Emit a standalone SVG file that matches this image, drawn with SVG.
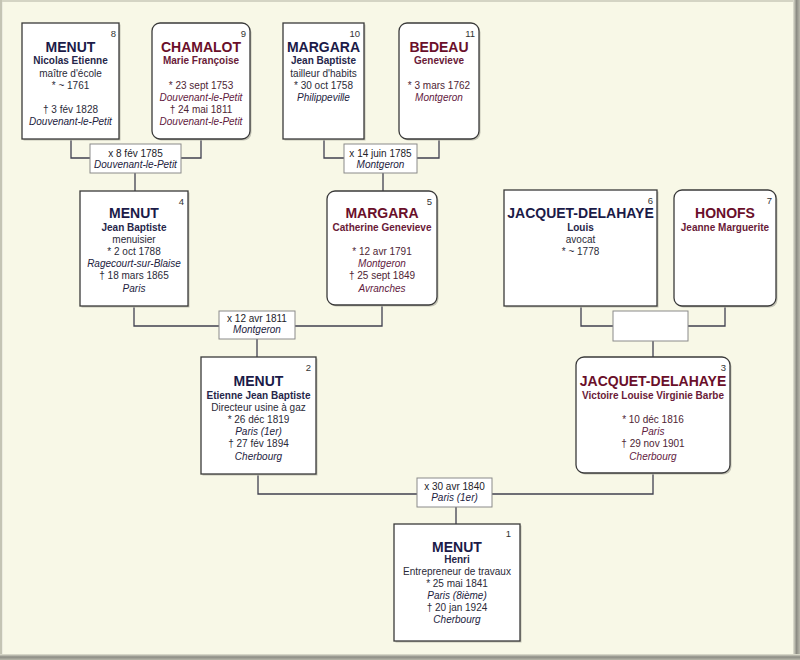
<svg xmlns="http://www.w3.org/2000/svg" width="800" height="660" viewBox="0 0 800 660">
<defs>
<linearGradient id="gr" x1="0" y1="0" x2="1" y2="0">
<stop offset="0" stop-color="#e4e4d4"/><stop offset="0.5" stop-color="#8c8c84"/><stop offset="1" stop-color="#b8b8ac"/>
</linearGradient>
<linearGradient id="gb" x1="0" y1="0" x2="0" y2="1">
<stop offset="0" stop-color="#e4e4d4"/><stop offset="0.5" stop-color="#8c8c84"/><stop offset="1" stop-color="#b8b8ac"/>
</linearGradient>
<style>
text{font-family:"Liberation Sans",Arial,sans-serif;text-anchor:middle;font-size:10px}
.nm{font-size:14px;font-weight:bold}
.gv{font-weight:bold}
.it{font-style:italic}
.num{font-size:9.5px;text-anchor:end;fill:#333333}
.m .nm{fill:#1b1b48}
.m .gv{fill:#26264a}
.m .tx{fill:#2a2a38}
.m .it{fill:#22223e}
.f .nm{fill:#6a0f2a}
.f .gv{fill:#6a1a38}
.f .tx{fill:#4e2434}
.f .it{fill:#62203e}
.box{fill:#ffffff;stroke:#3a3a3a;stroke-width:1.3}
.sh{fill:#c4c4b6}
.mbox{fill:#ffffff;stroke:#8a8a8a;stroke-width:1}
.mt{fill:#222228}
.mi{fill:#22223e;font-style:italic}
.con{fill:none;stroke:#404050;stroke-width:1.3}
</style>
</defs>
<rect x="0" y="0" width="800" height="660" fill="#f8f8e7"/>
<rect x="0" y="0" width="800" height="2" fill="#d4d4c4"/>
<rect x="0" y="0" width="2" height="660" fill="#c4c4b4"/>
<rect x="2" y="2" width="1" height="652" fill="#ecece0"/>
<rect x="793" y="0" width="7" height="660" fill="url(#gr)"/>
<rect x="0" y="654" width="800" height="6" fill="url(#gb)"/>

<g id="connectors">
<path class="con" d="M71,139V158H90M201,139V158H181M135,173V191"/>
<path class="con" d="M324,139V158H344M439,139V158H417M383,173V191"/>
<path class="con" d="M134,306V326H219M382,305V326H295M257,339V357"/>
<path class="con" d="M581,306V326H613M725,306V326H688M653,341V357"/>
<path class="con" d="M258,474V494H417M653,473V494H492M456,507V524"/>
</g>

<g id="marriage-8-9">
<rect class="mbox" x="90" y="144" width="91" height="29"/>
<text class="mt" x="135.5" y="156.5">x 8 fév 1785</text>
<text class="mi" x="135.5" y="167.5">Douvenant-le-Petit</text>
</g>
<g id="marriage-10-11">
<rect class="mbox" x="344" y="144" width="73" height="29"/>
<text class="mt" x="380.5" y="156.5">x 14 juin 1785</text>
<text class="mi" x="380.5" y="167.5">Montgeron</text>
</g>
<g id="marriage-4-5">
<rect class="mbox" x="219" y="311" width="76" height="28"/>
<text class="mt" x="257" y="322">x 12 avr 1811</text>
<text class="mi" x="257" y="333">Montgeron</text>
</g>
<g id="marriage-6-7">
<rect class="mbox" x="613" y="311" width="75" height="30"/>
</g>
<g id="marriage-2-3">
<rect class="mbox" x="417" y="478" width="75" height="29"/>
<text class="mt" x="454.5" y="489.5">x 30 avr 1840</text>
<text class="mi" x="454.5" y="500.5">Paris (1er)</text>
</g>

<g id="node-8" class="m">
<rect class="sh" x="23.5" y="24.5" width="97" height="116"/>
<rect class="box" x="22" y="23" width="97" height="116"/>
<text class="num" x="116" y="37">8</text>
<text class="nm" x="70.5" y="52">MENUT</text>
<text class="gv" x="70.5" y="64.3">Nicolas Etienne</text>
<text class="tx" x="70.5" y="76.5">maître d'école</text>
<text class="tx" x="70.5" y="88.7">* ~ 1761</text>
<text class="tx" x="70.5" y="113.1">† 3 fév 1828</text>
<text class="it" x="70.5" y="125.3">Douvenant-le-Petit</text>
</g>
<g id="node-9" class="f">
<rect class="sh" x="153.5" y="24.5" width="98" height="116" rx="8"/>
<rect class="box" x="152" y="23" width="98" height="116" rx="8"/>
<text class="num" x="246" y="37">9</text>
<text class="nm" x="201" y="52">CHAMALOT</text>
<text class="gv" x="201" y="64.3">Marie Françoise</text>
<text class="tx" x="201" y="88.7">* 23 sept 1753</text>
<text class="it" x="201" y="100.9">Douvenant-le-Petit</text>
<text class="tx" x="201" y="113.1">† 24 mai 1811</text>
<text class="it" x="201" y="125.3">Douvenant-le-Petit</text>
</g>
<g id="node-10" class="m">
<rect class="sh" x="284.5" y="24.5" width="81" height="116"/>
<rect class="box" x="283" y="23" width="81" height="116"/>
<text class="num" x="360" y="37">10</text>
<text class="nm" x="323.5" y="52">MARGARA</text>
<text class="gv" x="323.5" y="64.3">Jean Baptiste</text>
<text class="tx" x="323.5" y="76.5">tailleur d'habits</text>
<text class="tx" x="323.5" y="88.7">* 30 oct 1758</text>
<text class="it" x="323.5" y="100.9">Philippeville</text>
</g>
<g id="node-11" class="f">
<rect class="sh" x="400.5" y="24.5" width="80" height="116" rx="8"/>
<rect class="box" x="399" y="23" width="80" height="116" rx="8"/>
<text class="num" x="475" y="37">11</text>
<text class="nm" x="439" y="52">BEDEAU</text>
<text class="gv" x="439" y="64.3">Genevieve</text>
<text class="tx" x="439" y="88.7">* 3 mars 1762</text>
<text class="it" x="439" y="100.9">Montgeron</text>
</g>

<g id="node-4" class="m">
<rect class="sh" x="81.5" y="192.5" width="108" height="115"/>
<rect class="box" x="80" y="191" width="108" height="115"/>
<text class="num" x="184" y="204.5">4</text>
<text class="nm" x="134" y="218.3">MENUT</text>
<text class="gv" x="134" y="230.5">Jean Baptiste</text>
<text class="tx" x="134" y="242.7">menuisier</text>
<text class="tx" x="134" y="254.9">* 2 oct 1788</text>
<text class="it" x="134" y="267.1">Ragecourt-sur-Blaise</text>
<text class="tx" x="134" y="279.3">† 18 mars 1865</text>
<text class="it" x="134" y="291.5">Paris</text>
</g>
<g id="node-5" class="f">
<rect class="sh" x="328.5" y="192.5" width="110" height="114" rx="8"/>
<rect class="box" x="327" y="191" width="110" height="114" rx="8"/>
<text class="num" x="432" y="204.5">5</text>
<text class="nm" x="382" y="218.3">MARGARA</text>
<text class="gv" x="382" y="230.5">Catherine Genevieve</text>
<text class="tx" x="382" y="254.9">* 12 avr 1791</text>
<text class="it" x="382" y="267.1">Montgeron</text>
<text class="tx" x="382" y="279.3">† 25 sept 1849</text>
<text class="it" x="382" y="291.5">Avranches</text>
</g>
<g id="node-6" class="m">
<rect class="sh" x="505.5" y="191.5" width="153" height="116"/>
<rect class="box" x="504" y="190" width="153" height="116"/>
<text class="num" x="653" y="204">6</text>
<text class="nm" x="580.5" y="218.3">JACQUET-DELAHAYE</text>
<text class="gv" x="580.5" y="230.5">Louis</text>
<text class="tx" x="580.5" y="242.7">avocat</text>
<text class="tx" x="580.5" y="254.9">* ~ 1778</text>
</g>
<g id="node-7" class="f">
<rect class="sh" x="675.5" y="191.5" width="102" height="116" rx="8"/>
<rect class="box" x="674" y="190" width="102" height="116" rx="8"/>
<text class="num" x="772" y="204">7</text>
<text class="nm" x="725" y="218.3">HONOFS</text>
<text class="gv" x="725" y="230.5">Jeanne Marguerite</text>
</g>

<g id="node-2" class="m">
<rect class="sh" x="202.5" y="358.5" width="115" height="117"/>
<rect class="box" x="201" y="357" width="115" height="117"/>
<text class="num" x="311" y="370.7">2</text>
<text class="nm" x="258.5" y="385.5">MENUT</text>
<text class="gv" x="258.5" y="398.5">Etienne Jean Baptiste</text>
<text class="tx" x="258.5" y="410.7">Directeur usine à gaz</text>
<text class="tx" x="258.5" y="422.9">* 26 déc 1819</text>
<text class="it" x="258.5" y="435.1">Paris (1er)</text>
<text class="tx" x="258.5" y="447.3">† 27 fév 1894</text>
<text class="it" x="258.5" y="459.5">Cherbourg</text>
</g>
<g id="node-3" class="f">
<rect class="sh" x="577.5" y="358.5" width="154" height="116" rx="8"/>
<rect class="box" x="576" y="357" width="154" height="116" rx="8"/>
<text class="num" x="726" y="371">3</text>
<text class="nm" x="653" y="385.5">JACQUET-DELAHAYE</text>
<text class="gv" x="653" y="398.5">Victoire Louise Virginie Barbe</text>
<text class="tx" x="653" y="422.9">* 10 déc 1816</text>
<text class="it" x="653" y="435.1">Paris</text>
<text class="tx" x="653" y="447.3">† 29 nov 1901</text>
<text class="it" x="653" y="459.5">Cherbourg</text>
</g>

<g id="node-1" class="m">
<rect class="sh" x="395.5" y="525.5" width="126" height="117"/>
<rect class="box" x="394" y="524" width="126" height="117"/>
<text class="num" x="511" y="537.3">1</text>
<text class="nm" x="457" y="552.3">MENUT</text>
<text class="gv" x="457" y="563.3">Henri</text>
<text class="tx" x="457" y="575.3">Entrepreneur de travaux</text>
<text class="tx" x="457" y="587.3">* 25 mai 1841</text>
<text class="it" x="457" y="599.3">Paris (8ième)</text>
<text class="tx" x="457" y="611.3">† 20 jan 1924</text>
<text class="it" x="457" y="623.3">Cherbourg</text>
</g>
</svg>
